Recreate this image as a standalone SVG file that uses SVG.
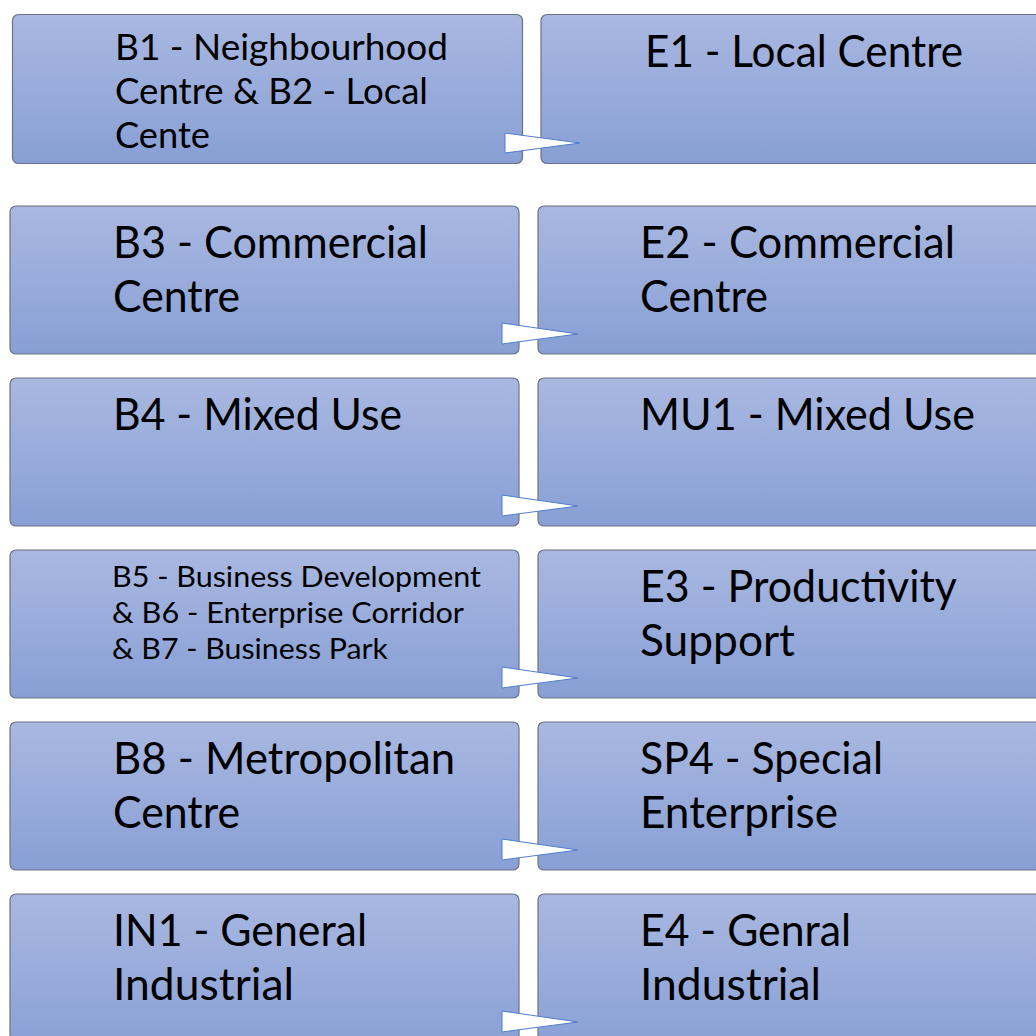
<svg xmlns="http://www.w3.org/2000/svg" width="1036" height="1036" viewBox="0 0 1036 1036">
<defs>
<linearGradient id="g" x1="0" y1="0" x2="0" y2="1">
<stop offset="0" stop-color="#a9b8e1"/>
<stop offset="1" stop-color="#889fd5"/>
</linearGradient>
</defs>
<style>
.box{fill:url(#g);stroke:#6b7386;stroke-width:1.2}
.t{font-family:Lato,"Open Sans","Liberation Sans",sans-serif;fill:#000}
.big{font-size:44px}
.mid{font-size:36px}
.sm{font-size:29px}
.arr{fill:#fff;stroke:#4f7dc9;stroke-width:1}
</style>
<rect width="1036" height="1036" fill="#fff"/>
<g id="node-b1b2">
<rect class="box" x="12.5" y="14.5" width="510" height="149" rx="6"/>
<text class="t mid" x="115" y="60" textLength="333" lengthAdjust="spacingAndGlyphs">B1 - Neighbourhood</text>
<text class="t mid" x="115" y="104" textLength="313" lengthAdjust="spacingAndGlyphs">Centre &amp; B2 - Local</text>
<text class="t mid" x="115" y="148" textLength="95" lengthAdjust="spacingAndGlyphs">Cente</text>
</g>
<g id="node-e1">
<rect class="box" x="541" y="14.5" width="520" height="149" rx="6"/>
<text class="t big" x="645" y="67" textLength="318" lengthAdjust="spacingAndGlyphs">E1 - Local Centre</text>
</g>
<g id="node-b3">
<rect class="box" x="10" y="206" width="509" height="148" rx="6"/>
<text class="t big" x="113" y="258" textLength="315" lengthAdjust="spacingAndGlyphs">B3 - Commercial</text>
<text class="t big" x="113" y="312" textLength="127" lengthAdjust="spacingAndGlyphs">Centre</text>
</g>
<g id="node-e2">
<rect class="box" x="538" y="206" width="520" height="148" rx="6"/>
<text class="t big" x="640" y="258" textLength="315" lengthAdjust="spacingAndGlyphs">E2 - Commercial</text>
<text class="t big" x="640" y="312" textLength="128" lengthAdjust="spacingAndGlyphs">Centre</text>
</g>
<g id="node-b4">
<rect class="box" x="10" y="378" width="509" height="148" rx="6"/>
<text class="t big" x="113" y="430" textLength="289" lengthAdjust="spacingAndGlyphs">B4 - Mixed Use</text>
</g>
<g id="node-mu1">
<rect class="box" x="538" y="378" width="520" height="148" rx="6"/>
<text class="t big" x="640" y="430" textLength="335" lengthAdjust="spacingAndGlyphs">MU1 - Mixed Use</text>
</g>
<g id="node-b5b6b7">
<rect class="box" x="10" y="550" width="509" height="148" rx="6"/>
<text class="t sm" x="112" y="587" textLength="369" lengthAdjust="spacingAndGlyphs">B5 - Business Development</text>
<text class="t sm" x="112" y="623" textLength="352" lengthAdjust="spacingAndGlyphs">&amp; B6 - Enterprise Corridor</text>
<text class="t sm" x="112" y="659" textLength="276" lengthAdjust="spacingAndGlyphs">&amp; B7 - Business Park</text>
</g>
<g id="node-e3">
<rect class="box" x="538" y="550" width="520" height="148" rx="6"/>
<text class="t big" x="640" y="602" textLength="317" lengthAdjust="spacingAndGlyphs">E3 - Productivity</text>
<text class="t big" x="640" y="656" textLength="155" lengthAdjust="spacingAndGlyphs">Support</text>
</g>
<g id="node-b8">
<rect class="box" x="10" y="722" width="509" height="148" rx="6"/>
<text class="t big" x="113" y="774" textLength="342" lengthAdjust="spacingAndGlyphs">B8 - Metropolitan</text>
<text class="t big" x="113" y="828" textLength="127" lengthAdjust="spacingAndGlyphs">Centre</text>
</g>
<g id="node-sp4">
<rect class="box" x="538" y="722" width="520" height="148" rx="6"/>
<text class="t big" x="640" y="774" textLength="243" lengthAdjust="spacingAndGlyphs">SP4 - Special</text>
<text class="t big" x="640" y="828" textLength="198" lengthAdjust="spacingAndGlyphs">Enterprise</text>
</g>
<g id="node-in1">
<rect class="box" x="10" y="894" width="509" height="160" rx="6"/>
<text class="t big" x="113" y="946" textLength="254" lengthAdjust="spacingAndGlyphs">IN1 - General</text>
<text class="t big" x="113" y="1000" textLength="181" lengthAdjust="spacingAndGlyphs">Industrial</text>
</g>
<g id="node-e4">
<rect class="box" x="538" y="894" width="520" height="160" rx="6"/>
<text class="t big" x="640" y="946" textLength="211" lengthAdjust="spacingAndGlyphs">E4 - Genral</text>
<text class="t big" x="640" y="1000" textLength="181" lengthAdjust="spacingAndGlyphs">Industrial</text>
</g>
<g id="connectors">
<polygon class="arr" points="505,133 580,143 505,153"/>
<polygon class="arr" points="502,323 578,334 502,344"/>
<polygon class="arr" points="502,495 578,506 502,516"/>
<polygon class="arr" points="502,667 578,678 502,688"/>
<polygon class="arr" points="502,839 578,850 502,860"/>
<polygon class="arr" points="502,1011 578,1022 502,1032"/>
</g>
</svg>
